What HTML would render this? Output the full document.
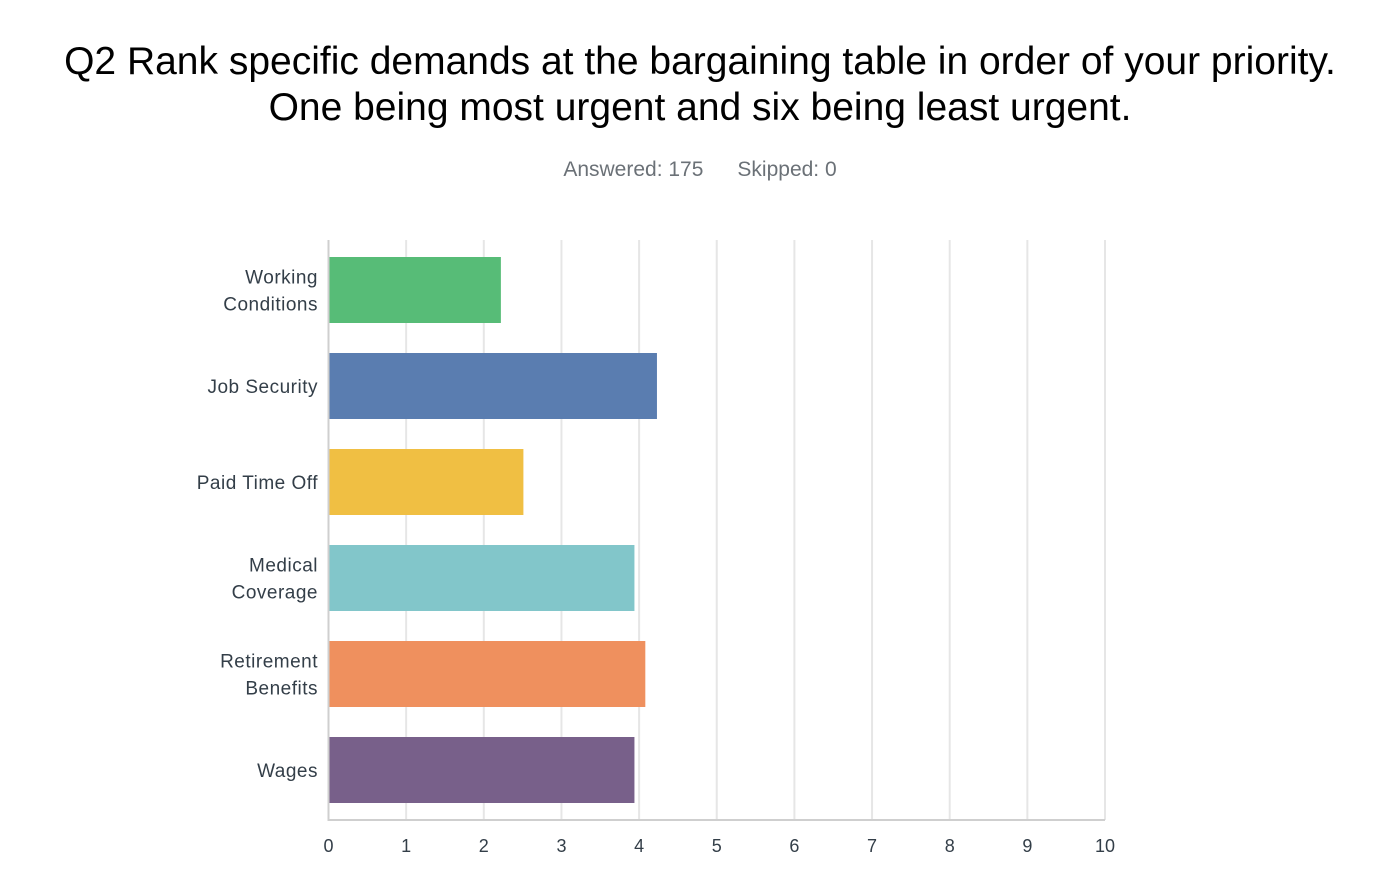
<!DOCTYPE html>
<html><head><meta charset="utf-8"><style>
body{margin:0;background:#fff;width:1400px;height:876px;overflow:hidden;font-family:"Liberation Sans",sans-serif;}
#title{position:absolute;left:0;width:1400px;top:39px;text-align:center;font-size:39px;line-height:46px;color:#000;}
#stats{position:absolute;left:0;width:1400px;top:158px;text-align:center;font-size:21px;color:#6b7177;}
#stats span{margin:0 17px;}
svg{position:absolute;left:0;top:0;}
</style></head><body>
<div id="title">Q2 Rank specific demands at the bargaining table in order of your priority.<br>One being most urgent and six being least urgent.</div>
<div id="stats"><span>Answered: 175</span><span>Skipped: 0</span></div>
<svg id="chart" width="1400" height="876"></svg>
<script>
const categories=[["Working","Conditions"],["Job Security"],["Paid Time Off"],["Medical","Coverage"],["Retirement","Benefits"],["Wages"]];
const values=[2.22,4.23,2.51,3.94,4.08,3.94];
const colors=["#57bc77","#5a7db0","#f0bf43","#82c6ca","#ef905e","#78608a"];
const ticks=[0,1,2,3,4,5,6,7,8,9,10];
const NS="http://www.w3.org/2000/svg";
const svgEl=document.getElementById('chart');
const x0=328.5,x1=1105,yTop=240,yBottom=820;
const xs=v=>x0+(x1-x0)*v/10;
const band=(yBottom-yTop-4)/categories.length;
function mk(t,a){const e=document.createElementNS(NS,t);for(const k in a)e.setAttribute(k,a[k]);svgEl.appendChild(e);return e;}
ticks.forEach(t=>{
  if(t>0){const g=mk('line',{x1:xs(t),x2:xs(t),y1:yTop,y2:yBottom,stroke:'#e6e6e6','stroke-width':2});
  
  }
  const l=mk('text',{x:xs(t),y:852,'text-anchor':'middle','font-size':18,fill:'#333e48'});
  l.textContent=t;
  
  
});
categories.forEach((c,i)=>{
  const yc=yTop+band*i+band/2+2;
  const r=mk('rect',{x:x0,y:yc-33,width:xs(values[i])-x0,height:66,fill:colors[i]});
  
  
  const t=mk('text',{x:318,'text-anchor':'end','font-size':19,fill:'#333e48','letter-spacing':'0.5'});
  
  
  c.forEach((line,j)=>{const s=document.createElementNS(NS,'tspan');s.setAttribute('x',318);s.setAttribute('y',yc+7+(j-(c.length-1)/2)*27);s.textContent=line;t.appendChild(s);});
});
const ax=mk('line',{x1:x0,x2:x0,y1:yTop,y2:yBottom,stroke:'#cfcfcf','stroke-width':2});


const bx=mk('line',{x1:x0-1,x2:x1,y1:yBottom,y2:yBottom,stroke:'#cfcfcf','stroke-width':2});


</script>
</body></html>
